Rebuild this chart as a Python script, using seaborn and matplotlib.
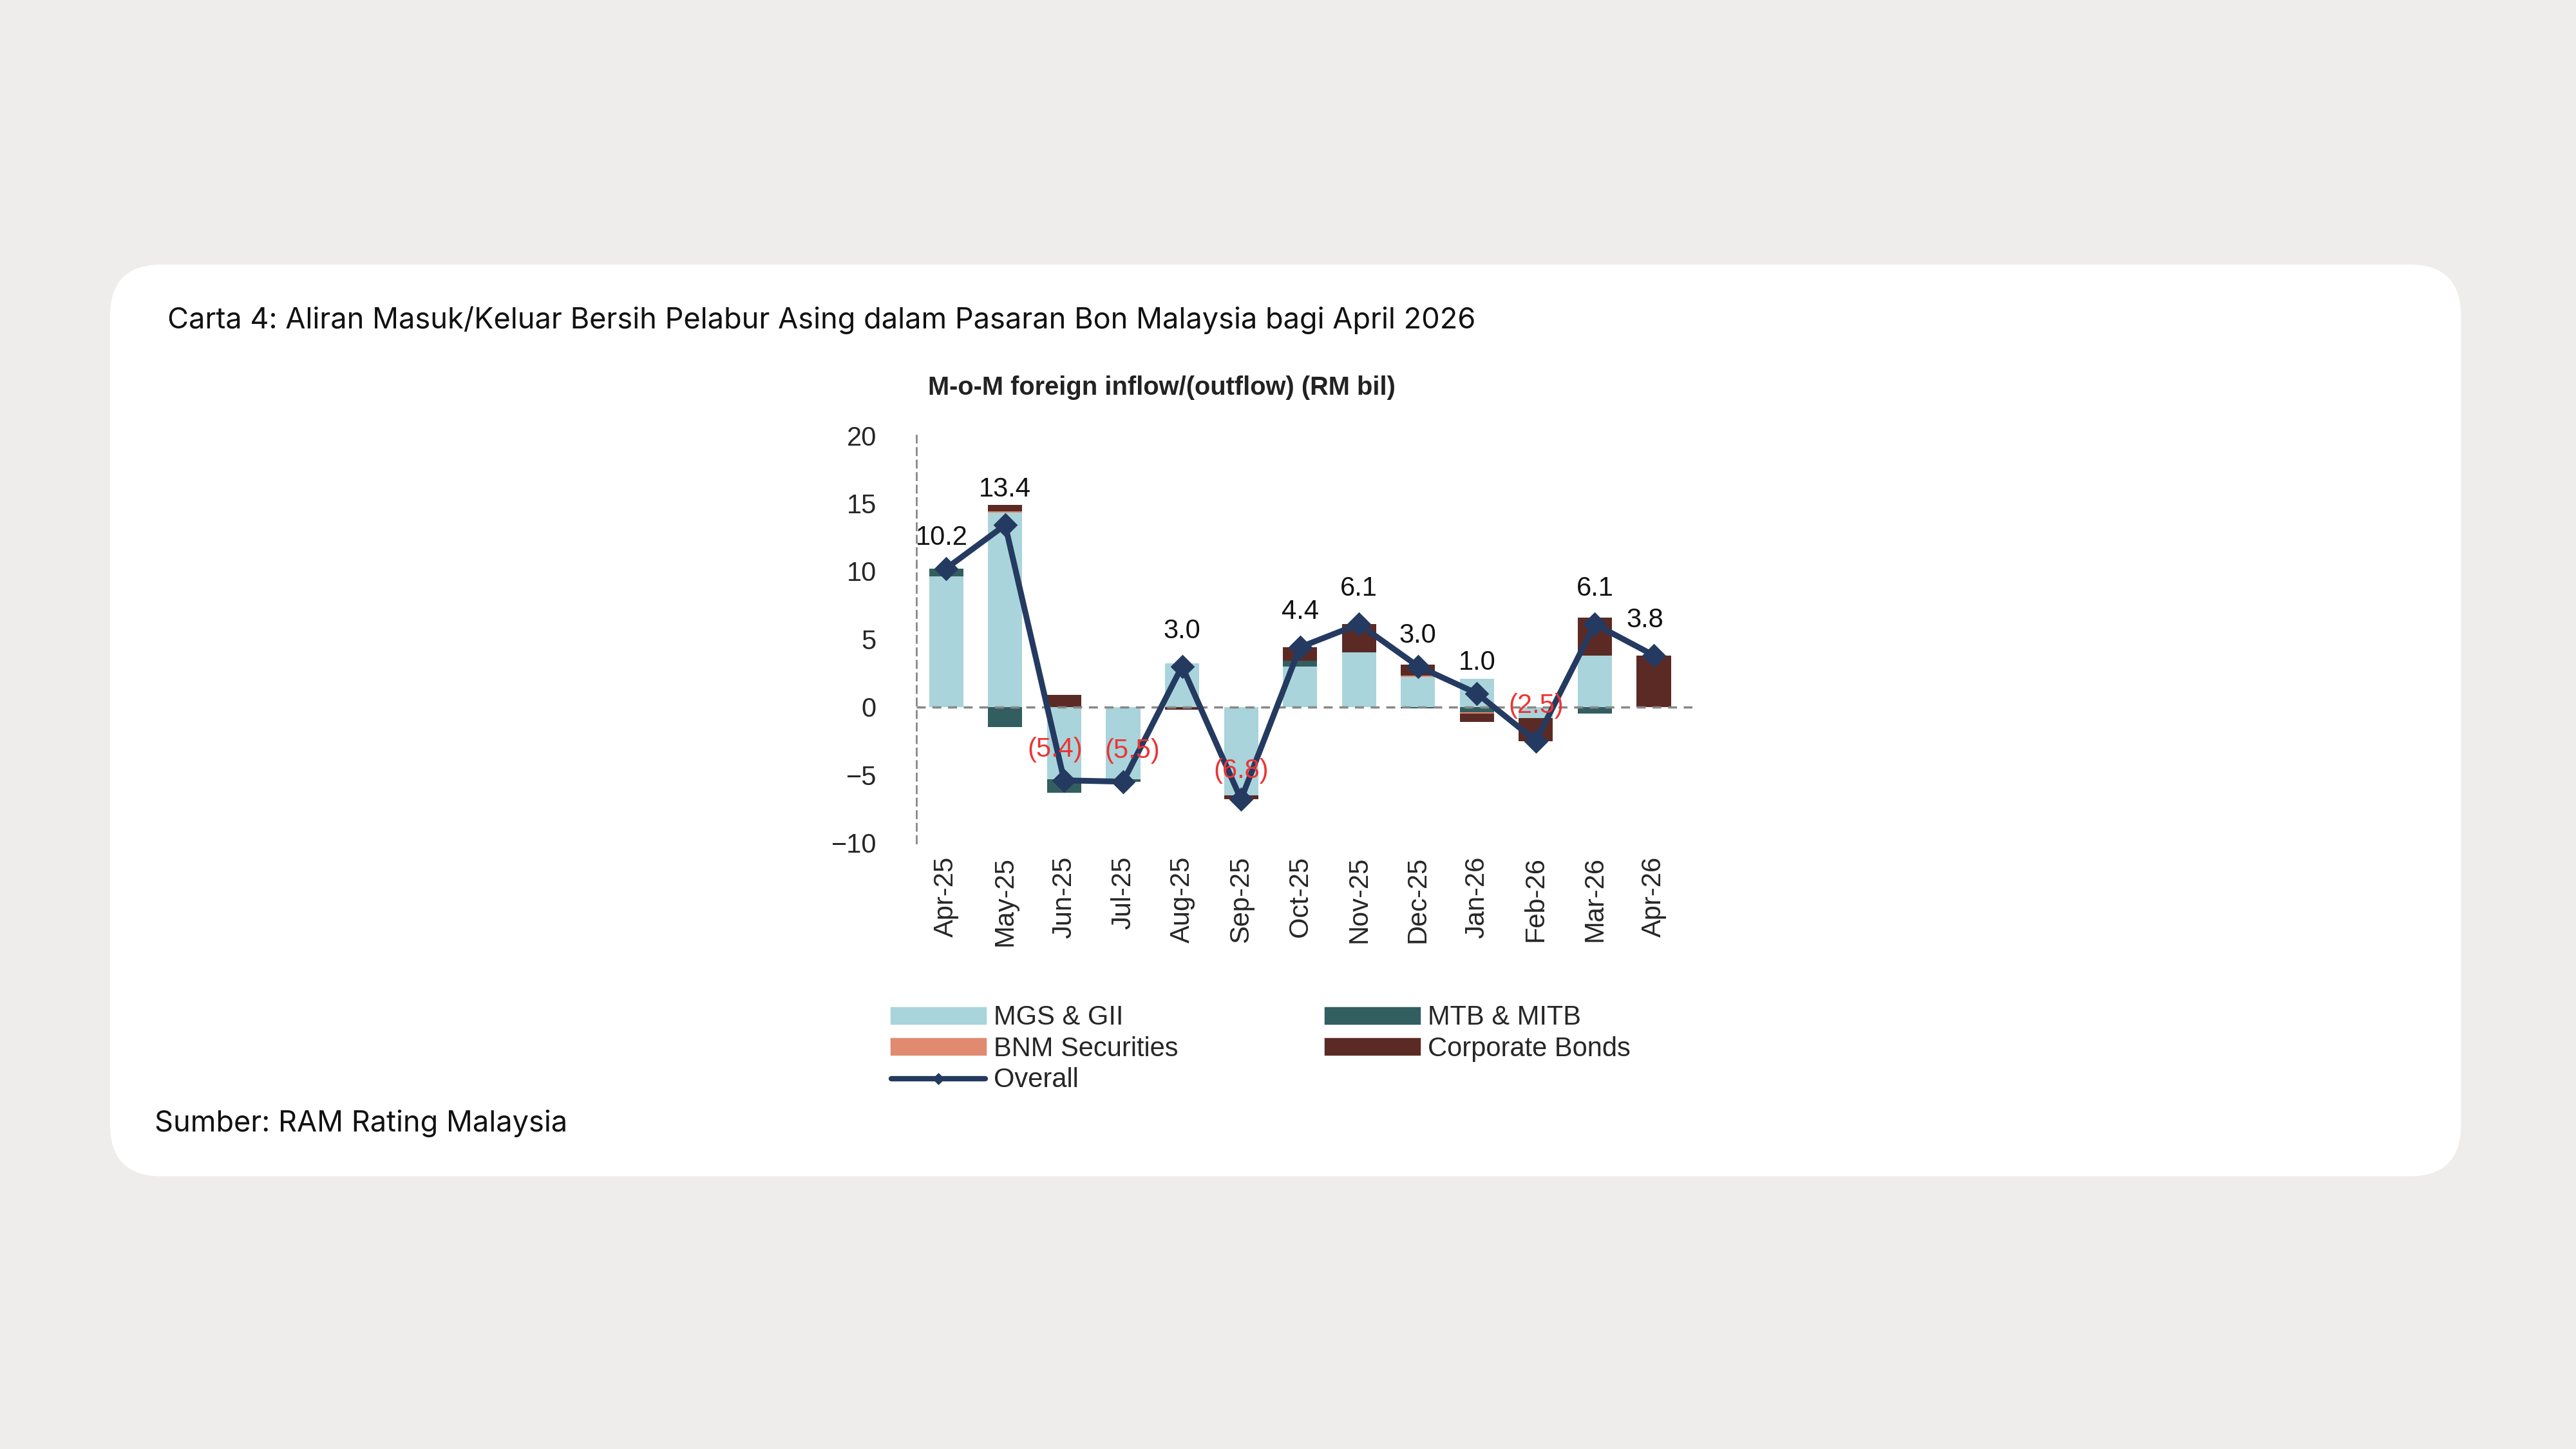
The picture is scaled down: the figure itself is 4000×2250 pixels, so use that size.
import matplotlib
matplotlib.use("Agg")
import matplotlib.pyplot as plt
import seaborn as sns
import numpy as np
import pandas as pd
from matplotlib.patches import FancyBboxPatch
from matplotlib.lines import Line2D
from matplotlib.patches import Patch

months = ["Apr-25","May-25","Jun-25","Jul-25","Aug-25","Sep-25","Oct-25","Nov-25","Dec-25","Jan-26","Feb-26","Mar-26","Apr-26"]
mgs_gii = [9.6, 14.3, -5.3, -5.3, 3.2, -6.5, 3.0, 4.0, 2.2, 2.1, -0.8, 3.8, 0.0]
mtb_mitb = [0.6, -1.5, -1.0, -0.2, 0.0, 0.0, 0.4, 0.0, -0.1, -0.4, 0.0, -0.5, 0.0]
bnm_sec = [0.0, 0.1, 0.0, 0.0, 0.0, 0.0, 0.0, 0.0, 0.1, -0.1, 0.0, 0.0, 0.0]
corp_bonds = [0.0, 0.5, 0.9, 0.0, -0.2, -0.3, 1.0, 2.1, 0.8, -0.6, -1.7, 2.8, 3.8]
overall = [10.2, 13.4, -5.4, -5.5, 3.0, -6.8, 4.4, 6.1, 3.0, 1.0, -2.5, 6.1, 3.8]
overall_labels = ["10.2","13.4","(5.4)","(5.5)","3.0","(6.8)","4.4","6.1","3.0","1.0","(2.5)","6.1","3.8"]
label_offsets = [(-2, 8), (0, 10), (-4, 8), (4, 8), (0, 10), (0, 7), (0, 10), (0, 10), (0, 8), (0, 8), (0, 10), (0, 10), (-4, 10)]

sns.set_theme(style="white")
plt.rcParams['font.family'] = ['Liberation Sans', 'DejaVu Sans']

fig = plt.figure(figsize=(16, 9), dpi=250)
fig.patch.set_facecolor("#EEEDEB")
box = FancyBboxPatch((67/1568, 1-716/882), (1498-67)/1568, (716-161)/882,
                     boxstyle="round,pad=0,rounding_size=0.02", transform=fig.transFigure,
                     facecolor="white", edgecolor="none", mutation_aspect=1568/882, zorder=-10)
fig.patches.append(box)
fig.text(102/1568, 1-195/882, "Carta 4: Aliran Masuk/Keluar Bersih Pelabur Asing dalam Pasaran Bon Malaysia bagi April 2026",
         fontsize=13, family=['Inter', 'DejaVu Sans'], va="center", ha="left", color="#111111")
fig.text(94/1568, 1-684/882, "Sumber: RAM Rating Malaysia", fontsize=13, family=['Inter', 'DejaVu Sans'],
         va="center", ha="left", color="#111111")
fig.text(707/1568, 1-236/882, "M-o-M foreign inflow/(outflow) (RM bil)", fontsize=11.5, fontweight="bold",
         va="center", ha="center", color="#222222")

ax = fig.add_axes([558/1568, 1-513/882, (1030-558)/1568, (513-265)/882])
ax.set_facecolor("white")
x = np.arange(len(months))
series = [(mgs_gii, "#A9D4DB", "MGS & GII"), (mtb_mitb, "#335E60", "MTB & MITB"),
          (bnm_sec, "#E08A70", "BNM Securities"), (corp_bonds, "#5C2A25", "Corporate Bonds")]
pos_b = np.zeros(len(months)); neg_b = np.zeros(len(months))
for vals, col, lab in series:
    v = np.array(vals)
    bottoms = np.where(v >= 0, pos_b, neg_b)
    ax.bar(x, v, bottom=bottoms, width=0.58, color=col, edgecolor="none", zorder=2)
    pos_b = pos_b + np.where(v > 0, v, 0)
    neg_b = neg_b + np.where(v < 0, v, 0)

df = pd.DataFrame({"x": x, "overall": overall})
sns.lineplot(data=df, x="x", y="overall", ax=ax, color="#243A60", linewidth=2.6,
             marker="D", markersize=7, markeredgecolor="#243A60", zorder=4)
for i, (v, t) in enumerate(zip(overall, overall_labels)):
    neg = v < 0
    ax.annotate(t, (x[i], v), xytext=label_offsets[i], textcoords="offset points",
                ha="center", va="bottom", fontsize=12,
                color="#EE3333" if neg else "#111111", zorder=5)

ax.axhline(0, color="#888888", linestyle=(0, (4, 3)), linewidth=1.0, zorder=3)
ax.set_xlim(-0.5, len(months) - 0.35)
ax.set_ylim(-10, 20)
ax.set_yticks([-10, -5, 0, 5, 10, 15, 20])
ax.set_xticks(x)
ax.set_xticklabels(months, rotation=90, fontsize=12)
ax.tick_params(axis="y", labelsize=12, length=0, pad=18)
ax.tick_params(axis="x", length=0, pad=6)
ax.set_xlabel(""); ax.set_ylabel("")
for s in ["top", "right", "bottom"]:
    ax.spines[s].set_visible(False)
ax.spines["left"].set_linestyle((0, (4, 3)))
ax.spines["left"].set_color("#888888")
ax.spines["left"].set_linewidth(0.8)

handles = [Patch(color=c, label=l) for _, c, l in series]
handles.append(Line2D([0], [0], color="#243A60", lw=2.4, marker="D", markersize=3, label="Overall"))
order = [handles[0], handles[2], handles[4], handles[1], handles[3]]
leg = fig.legend(handles=order, loc="upper left", bbox_to_anchor=(528/1568, 1-597/882), ncol=2,
                 frameon=False, fontsize=12, handlelength=3.5, handleheight=0.5,
                 columnspacing=5.5, labelspacing=0.2, handletextpad=0.3)
fig.savefig("out.png", dpi=250, facecolor=fig.get_facecolor())
